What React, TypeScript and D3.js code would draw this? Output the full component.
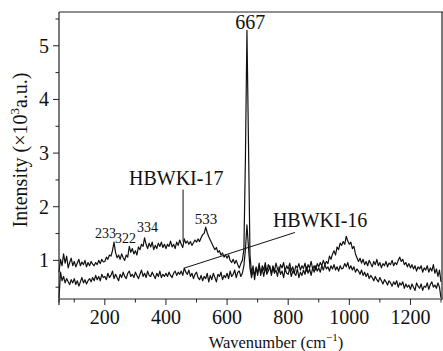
import React from "react";
import * as d3 from "d3";

const wavenumbers: number[] = d3.range(50, 1301, 5);

const hbwki17: number[] = [
  0.78, 1.02, 0.9, 1.12, 0.95, 1.08, 0.86, 0.96, 1.04, 0.9,
  0.98, 0.88, 0.95, 1.02, 0.9, 0.97, 0.92, 1.0, 0.88, 0.96,
  0.9, 0.98, 0.93, 0.9, 0.96, 0.92, 1.0, 0.94, 1.02, 0.97,
  0.98, 1.06, 1.02, 1.1, 1.08, 1.18, 1.34, 1.15, 1.05, 1.1,
  1.02, 1.12, 1.05, 1.0, 1.1, 1.06, 1.26, 1.15, 1.22, 1.12,
  1.18, 1.1, 1.25, 1.2, 1.3, 1.26, 1.42, 1.3, 1.22, 1.32,
  1.25, 1.34, 1.2, 1.28, 1.22, 1.32, 1.26, 1.34, 1.24, 1.3,
  1.22, 1.3, 1.26, 1.36, 1.25, 1.3, 1.22, 1.34, 1.28, 1.38,
  1.3, 1.24, 1.4, 1.32, 1.36, 1.3, 1.35, 1.28, 1.33, 1.38,
  1.34, 1.4, 1.35, 1.42, 1.48, 1.5, 1.62, 1.52, 1.44, 1.38,
  1.32, 1.26, 1.2, 1.24, 1.15, 1.18, 1.1, 1.14, 1.06, 1.1,
  1.04, 1.1, 1.0, 0.96, 1.02, 0.94, 1.0, 0.92, 0.86, 0.94,
  1.0, 1.2, 2.9, 5.29, 3.2, 1.1, 0.75, 0.9, 0.64, 0.85,
  0.78, 0.95, 0.72, 0.9, 0.82, 0.96, 0.78, 0.92, 0.85, 0.76,
  0.9, 0.8, 0.95, 0.84, 0.78, 0.92, 0.86, 0.96, 0.8, 0.9,
  0.84, 0.95, 0.8, 0.88, 0.76, 0.9, 0.86, 0.94, 0.82, 0.9,
  0.85, 0.95, 0.8, 0.92, 0.86, 0.98, 0.84, 0.9, 0.82, 0.94,
  0.88, 0.96, 0.9, 1.0, 0.92, 0.98, 0.94, 1.08, 1.02, 1.12,
  1.18, 1.1, 1.25, 1.2, 1.32, 1.28, 1.35, 1.3, 1.45, 1.36,
  1.3, 1.34, 1.22, 1.26, 1.12, 1.05, 0.98, 1.04, 0.95, 1.02,
  0.92, 0.98, 0.9, 1.0, 0.94, 0.88, 0.98, 0.92, 1.02, 0.9,
  0.96, 0.86, 0.94, 0.9, 0.98, 0.88, 0.95, 0.92, 1.0, 0.9,
  0.96, 0.92, 1.0, 1.06, 0.98, 1.02, 0.92, 0.96, 0.88, 0.94,
  0.86, 0.92, 0.84, 0.9, 0.8, 0.88, 0.84, 0.9, 0.78, 0.86,
  0.82, 0.9, 0.78, 0.86, 0.8, 0.92, 0.76, 0.84, 0.7, 0.82,
  0.6,
];

const hbwki16: number[] = [
  0.3, 0.78, 0.62, 0.7, 0.58, 0.66, 0.6, 0.55, 0.64, 0.58,
  0.66, 0.55, 0.62, 0.52, 0.6, 0.68, 0.58, 0.64, 0.56, 0.62,
  0.66, 0.6, 0.68, 0.62, 0.72, 0.64, 0.7, 0.62, 0.74, 0.68,
  0.7, 0.64, 0.76, 0.68, 0.72, 0.8, 0.66, 0.74, 0.68, 0.62,
  0.74, 0.68, 0.78, 0.7, 0.66, 0.76, 0.8, 0.7, 0.74, 0.68,
  0.78, 0.72, 0.66, 0.74, 0.82, 0.7, 0.76, 0.68, 0.8, 0.72,
  0.7, 0.78, 0.72, 0.66, 0.76, 0.7, 0.8, 0.68, 0.74, 0.7,
  0.76, 0.7, 0.78, 0.72, 0.68, 0.76, 0.8, 0.72, 0.78, 0.74,
  0.8, 0.72, 0.86, 0.78, 0.74, 0.82, 0.7, 0.76, 0.66, 0.74,
  0.78, 0.68, 0.64, 0.72, 0.62, 0.7, 0.66, 0.76, 0.6, 0.72,
  0.64, 0.76, 0.68, 0.6, 0.74, 0.7, 0.78, 0.64, 0.72, 0.68,
  0.76, 0.66, 0.8, 0.7, 0.74, 0.82, 0.68, 0.78, 0.8, 0.7,
  0.76, 0.9, 1.2, 1.66, 1.25, 0.85, 0.68, 0.8, 0.74, 0.88,
  0.72, 0.9, 0.76, 0.84, 0.7, 0.88, 0.74, 0.8, 0.9, 0.72,
  0.86, 0.76, 0.82, 0.7, 0.88, 0.74, 0.8, 0.68, 0.84, 0.76,
  0.74, 0.86, 0.7, 0.8, 0.76, 0.72, 0.84, 0.68, 0.78, 0.72,
  0.82, 0.74, 0.88, 0.76, 0.84, 0.72, 0.86, 0.78, 0.9, 0.8,
  0.86, 0.78, 0.9, 0.82, 0.92, 0.84, 0.88, 0.8, 0.9, 0.84,
  0.92, 0.82, 0.88, 0.8, 0.9, 0.84, 0.86, 0.94, 0.88, 0.96,
  0.84, 0.9, 0.82, 0.88, 0.78, 0.84, 0.8, 0.74, 0.82, 0.72,
  0.78, 0.7, 0.76, 0.66, 0.72, 0.68, 0.62, 0.7, 0.64, 0.6,
  0.68, 0.62, 0.56, 0.64, 0.6, 0.54, 0.62, 0.58, 0.52, 0.6,
  0.55, 0.62, 0.5, 0.58, 0.54, 0.6, 0.48, 0.56, 0.5, 0.54,
  0.46, 0.56, 0.5, 0.44, 0.58, 0.52, 0.48, 0.56, 0.44, 0.52,
  0.5, 0.58, 0.46, 0.55, 0.6, 0.5, 0.54, 0.48, 0.58, 0.5,
  0.3,
];

const xMajorTicks = [200, 400, 600, 800, 1000, 1200];
const xMinorTicks = [50, 100, 300, 500, 700, 900, 1100, 1300];
const yMajorTicks = [1, 2, 3, 4, 5];
const yMinorTicks = [0.5, 1.5, 2.5, 3.5, 4.5, 5.5];

const W = 443;
const H = 351;
const FONT = '"Liberation Serif", "DejaVu Serif", "Times New Roman", serif';

export default function App() {
  const x = d3.scaleLinear().domain([50, 1300]).range([59, 441]);
  const y = d3.scaleLinear().domain([0.28, 5.63]).range([299, 12]);
  const line = d3
    .line<number>()
    .x((_, i) => x(wavenumbers[i]))
    .y((d) => y(d));

  const txt = { fontFamily: FONT, fill: "#111" } as React.CSSProperties;

  return (
    <svg
      width={W}
      height={H}
      style={{ position: "absolute", left: 0, top: 0, background: "#fff", fontFamily: FONT }}
    >
      <path d={line(hbwki17) || ""} fill="none" stroke="#111" strokeWidth={1.2} strokeLinejoin="round" />
      <path d={line(hbwki16) || ""} fill="none" stroke="#111" strokeWidth={1.2} strokeLinejoin="round" />

      {/* frame */}
      <line x1={59} x2={59} y1={12} y2={305} stroke="#222" strokeWidth={1.2} />
      <line x1={59} x2={443} y1={12} y2={12} stroke="#222" strokeWidth={1.2} />
      <line x1={59} x2={443} y1={299} y2={299} stroke="#222" strokeWidth={1.2} />
      <line x1={442} x2={442} y1={12} y2={299} stroke="#222" strokeWidth={1.2} />

      {xMajorTicks.map((t) => (
        <g key={"xm" + t}>
          <line x1={x(t)} x2={x(t)} y1={299} y2={305} stroke="#222" />
          <text x={x(t)} y={324} fontSize={20} textAnchor="middle" style={txt}>
            {t}
          </text>
        </g>
      ))}
      {xMinorTicks.map((t) => (
        <line key={"xn" + t} x1={x(t)} x2={x(t)} y1={299} y2={302.5} stroke="#222" />
      ))}
      {yMajorTicks.map((t) => (
        <g key={"ym" + t}>
          <line x1={53} x2={59} y1={y(t)} y2={y(t)} stroke="#222" />
          <text x={49} y={y(t) + 7} fontSize={20} textAnchor="end" style={txt}>
            {t}
          </text>
        </g>
      ))}
      {yMinorTicks.map((t) => (
        <line key={"yn" + t} x1={55.5} x2={59} y1={y(t)} y2={y(t)} stroke="#222" />
      ))}

      <text x={276} y={348} fontSize={16.5} textAnchor="middle" style={txt}>
        Wavenumber (cm
        <tspan dy={-7} fontSize={11}>−1</tspan>
        <tspan dy={7}>)</tspan>
      </text>
      <text transform="translate(27,150) rotate(-90)" fontSize={20} textAnchor="middle" style={txt}>
        Intensity (×10
        <tspan dy={-8} fontSize={13}>3</tspan>
        <tspan dy={8}>a.u.)</tspan>
      </text>

      {/* peak labels */}
      <text x={x(676)} y={29} fontSize={20} textAnchor="middle" style={txt}>667</text>
      <text x={x(531)} y={y(1.68)} fontSize={15} textAnchor="middle" style={txt}>533</text>
      <text x={95} y={y(1.42)} fontSize={14} style={txt}>233</text>
      <text x={115} y={y(1.33)} fontSize={14} style={txt}>322</text>
      <text x={137} y={y(1.53)} fontSize={14} style={txt}>334</text>

      {/* sample labels */}
      <text x={x(279)} y={y(2.41)} fontSize={20} style={txt}>HBWKI-17</text>
      <line x1={x(456)} x2={x(456)} y1={y(2.32)} y2={y(1.35)} stroke="#111" />
      <text x={x(750)} y={y(1.63)} fontSize={20} style={txt}>HBWKI-16</text>
      <line x1={x(462)} x2={x(822)} y1={y(0.86)} y2={y(1.52)} stroke="#111" />
    </svg>
  );
}
